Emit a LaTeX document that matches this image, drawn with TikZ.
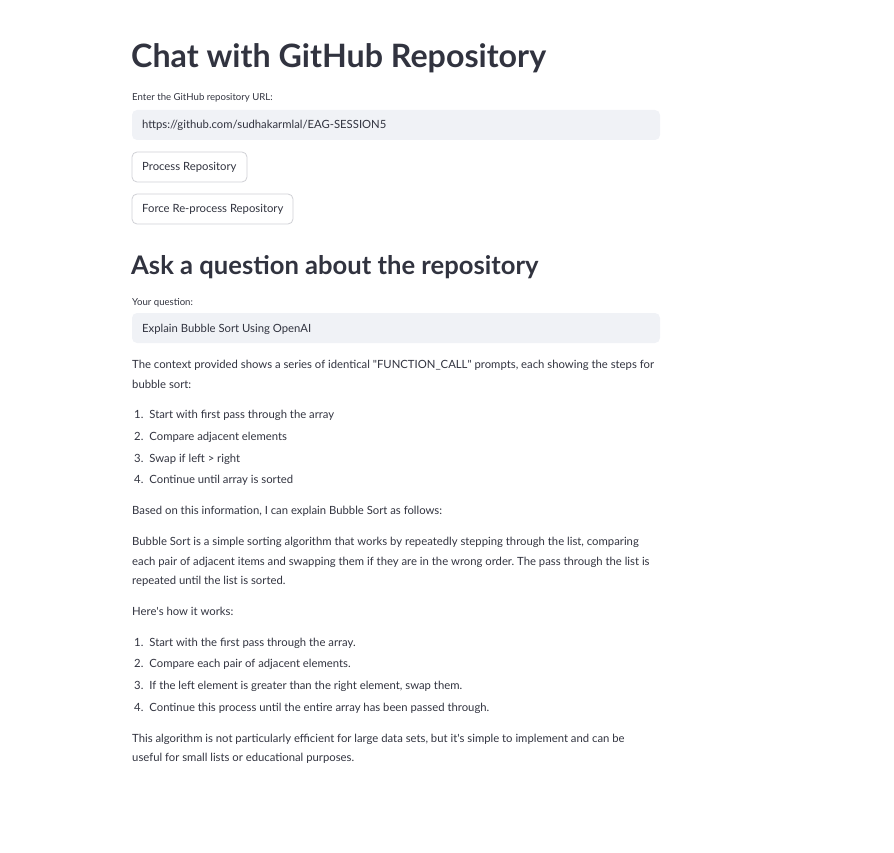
\documentclass[tikz,border=0pt]{standalone}
\usepackage{fontspec}
\setmainfont{Lato}
\usepackage{tikz}
\frenchspacing

\definecolor{ink}{HTML}{31333F}
\definecolor{fieldbg}{HTML}{F0F2F6}
\definecolor{btnline}{HTML}{D0D1D6}

\tikzset{
  txt/.style={anchor=base west, inner sep=0pt, text=ink, font=\fontsize{11.3}{13}\selectfont},
  small/.style={txt, font=\fontsize{9.6}{11}\selectfont},
  field/.style={fill=fieldbg, rounded corners=5pt},
  btnbox/.style={draw=btnline, fill=white, rounded corners=5pt, line width=0.8pt},
}

\begin{document}
\begin{tikzpicture}[x=1pt,y=-1pt]
        \useasboundingbox (0,0) rectangle (894,853);

        % header and repository input
        \node[txt, font=\fontsize{32.2}{36}\bfseries] (title) at (131,68) {Chat with GitHub Repository};
        \node[small] (urllabel) at (132,101) {Enter the GitHub repository URL:};
        \fill[field] (132,110) rectangle (660,140);
        \node[txt] (url) at (142,129) {https://github.com/sudhakarmlal/EAG-SESSION5};

        \draw[btnbox] (132,152) rectangle (247,182);
        \node[txt] (process) at (142,171) {Process Repository};
        \draw[btnbox] (132,194) rectangle (293,224);
        \node[txt] (force) at (142,213) {Force Re-process Repository};

        % question section
        \node[txt, font=\fontsize{25.6}{30}\bfseries] (ask) at (131,274) {Ask a question about the repository};
        \node[small] (qlabel) at (132,305) {Your question:};
        \fill[field] (132,313) rectangle (660,343);
        \node[txt] (question) at (142,332) {Explain Bubble Sort Using OpenAI};

        % answer
        \node[txt] (ctx1) at (132,368) {The context provided shows a series of identical \textquotedbl FUNCTION\_CALL\textquotedbl{} prompts, each showing the steps for};
        \node[txt] (ctx2) at (132,388) {bubble sort:};

        \foreach \n/\y/\t in {1/418/Start with first pass through the array,
                              2/440/Compare adjacent elements,
                              3/462/Swap if left > right,
                              4/483/Continue until array is sorted}
            \node[txt] (stepa\n) at (134,\y) {\n.\hspace{6pt}\t};

        \node[txt] (based) at (132,514) {Based on this information, I can explain Bubble Sort as follows:};
        \node[txt] (bs1) at (132,545) {Bubble Sort is a simple sorting algorithm that works by repeatedly stepping through the list, comparing};
        \node[txt] (bs2) at (132,565) {each pair of adjacent items and swapping them if they are in the wrong order. The pass through the list is};
        \node[txt] (bs3) at (132,584) {repeated until the list is sorted.};
        \node[txt] (how) at (132,615) {Here\textquotesingle s how it works:};

        \foreach \n/\y/\t in {1/646/Start with the first pass through the array.,
                              2/667/Compare each pair of adjacent elements.,
                              3/689/{If the left element is greater than the right element, swap them.},
                              4/711/Continue this process until the entire array has been passed through.}
            \node[txt] (stepb\n) at (134,\y) {\n.\hspace{6pt}\t};

        \node[txt] (end1) at (132,742) {This algorithm is not particularly efficient for large data sets, but it\textquotesingle s simple to implement and can be};
        \node[txt] (end2) at (132,761) {useful for small lists or educational purposes.};
    \end{tikzpicture}
\end{document}
